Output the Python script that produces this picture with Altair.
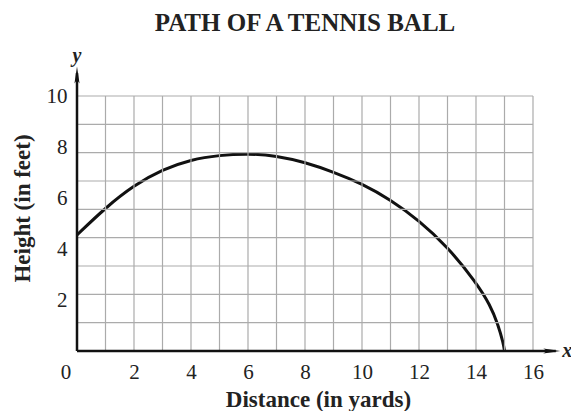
import altair as alt
import pandas as pd

# Curve (distance in yards, height in feet)
distance = [0, 1, 2, 3, 4, 5, 6, 7, 8, 9, 10, 11, 12, 13, 14, 14.5, 14.77, 14.96, 15.0]
height = [4.55, 5.62, 6.50, 7.12, 7.51, 7.68, 7.74, 7.66, 7.40, 7.02, 6.56, 5.93, 5.12, 4.09, 2.70, 1.80, 1.05, 0.30, 0]

x_ticks = [2, 4, 6, 8, 10, 12, 14, 16]
y_ticks = [2, 4, 6, 8, 10]
grid_x = list(range(1, 17))
grid_y = [10 * k / 9 for k in range(1, 10)]

SERIF = "Liberation Serif"
INK = "#222222"
GRID = "#ababab"

sx = alt.Scale(domain=[0, 16], nice=False, zero=False)
sy = alt.Scale(domain=[0, 10], nice=False, zero=False)

ax_x = alt.Axis(
    values=x_ticks, title="Distance (in yards)", grid=False, ticks=False, domain=False,
    labelFont=SERIF, labelFontSize=21, labelColor=INK, labelPadding=10,
    titleFont=SERIF, titleFontSize=23, titleFontWeight="bold", titleColor=INK,
    titleX=241, titleY=55, titleBaseline="alphabetic", titleAlign="center",
    labelFlush=False, labelOverlap=False,
)
ax_y = alt.Axis(
    values=y_ticks, title="Height (in feet)", grid=False, ticks=False, domain=False,
    labelFont=SERIF, labelFontSize=21, labelColor=INK, labelPadding=10,
    titleFont=SERIF, titleFontSize=23, titleFontWeight="bold", titleColor=INK,
    titleX=-48, titleY=112, titleAngle=-90, titleBaseline="alphabetic", titleAlign="center",
    labelFlush=False, labelOverlap=False,
)


def xd(v):
    return alt.XDatum(v, type="quantitative", scale=sx, axis=ax_x)


def yd(v):
    return alt.YDatum(v, type="quantitative", scale=sy, axis=ax_y)


curve_df = pd.DataFrame({"d": distance, "h": height})
gx_df = pd.DataFrame({"gx": grid_x})
gy_df = pd.DataFrame({"gy": grid_y})
one = pd.DataFrame({"a": [0]})

vgrid = alt.Chart(gx_df).mark_rule(color=GRID, strokeWidth=1.2).encode(
    x=alt.X("gx:Q", scale=sx, axis=ax_x),
    y=yd(0),
    y2=alt.Y2Datum(10),
)
hgrid = alt.Chart(gy_df).mark_rule(color=GRID, strokeWidth=1.2).encode(
    y=alt.Y("gy:Q", scale=sy, axis=ax_y),
    x=xd(0),
    x2=alt.X2Datum(16),
)

yaxis_line = alt.Chart(one).mark_rule(color="#111111", strokeWidth=2.5).encode(
    x=xd(0), y=yd(0), y2=alt.Y2Datum(10.9),
)
xaxis_line = alt.Chart(one).mark_rule(color="#111111", strokeWidth=2.5).encode(
    y=yd(0), x=xd(0), x2=alt.X2Datum(16.8),
)

up_arrow = alt.Chart(one).mark_point(
    shape="M0,-1L0.3,1L0,0.55L-0.3,1Z", size=290, filled=True, color="#111111", opacity=1
).encode(x=xd(0), y=yd(10.82))
right_arrow = alt.Chart(one).mark_point(
    shape="M1,0L-1,0.3L-0.55,0L-1,-0.3Z", size=290, filled=True, color="#111111", opacity=1
).encode(x=xd(16.66), y=yd(0))

y_letter = alt.Chart(pd.DataFrame({"t": ["y"]})).mark_text(
    font=SERIF, fontSize=20, fontStyle="italic", fontWeight="bold", color=INK, baseline="middle"
).encode(x=xd(0), y=yd(11.55), text="t:N")
x_letter = alt.Chart(pd.DataFrame({"t": ["x"]})).mark_text(
    font=SERIF, fontSize=20, fontStyle="italic", fontWeight="bold", color=INK, baseline="middle"
).encode(x=xd(17.2), y=yd(0), text="t:N")
zero_label = alt.Chart(pd.DataFrame({"t": ["0"]})).mark_text(
    font=SERIF, fontSize=21, color=INK, baseline="middle", dx=-11, dy=22
).encode(x=xd(0), y=yd(0), text="t:N")

curve = alt.Chart(curve_df).mark_line(
    color="#111111", strokeWidth=3, interpolate="basis"
).encode(
    x=alt.X("d:Q", scale=sx, axis=ax_x),
    y=alt.Y("h:Q", scale=sy, axis=ax_y),
)

chart = alt.layer(
    curve, vgrid, hgrid, yaxis_line, xaxis_line, up_arrow, right_arrow, y_letter, x_letter, zero_label
).properties(
    width=456,
    height=255,
    title=alt.TitleParams(
        "PATH OF A TENNIS BALL", font=SERIF, fontSize=25, fontWeight="bold", color=INK,
        anchor="middle", frame="group", dy=-6,
    ),
    autosize=alt.AutoSizeParams(type="none"),
    padding={"left": 69, "top": 88, "right": 38, "bottom": 60},
).configure_view(stroke=None).configure_axis(
    labelFont=SERIF, titleFont=SERIF
).configure_text(font=SERIF)

chart.save("out.html", embed_options={"renderer": "svg", "actions": False})
